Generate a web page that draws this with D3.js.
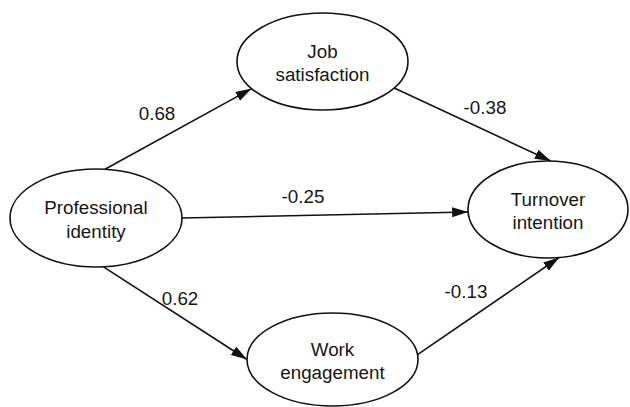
<!DOCTYPE html>
<html>
<head>
<meta charset="utf-8">
<script src="https://cdn.jsdelivr.net/npm/d3@7"></script>
<style>
  body { margin: 0; background: #fff; }
  svg text { font-family: "Liberation Sans", Arial, sans-serif; font-size: 18.8px; fill: #161616; }
</style>
</head>
<body>
<svg></svg>
<script>
var width = 630;
var height = 407;

// constructs in the model
var nodes = ['PI', 'JS', 'WE', 'TI'];
var nodeLabels = [
  ['Professional', 'identity'],
  ['Job', 'satisfaction'],
  ['Work', 'engagement'],
  ['Turnover', 'intention']
];

// paths: source, target, standardized coefficient
var pathFrom = ['PI', 'JS', 'PI', 'PI', 'WE'];
var pathTo = ['JS', 'TI', 'TI', 'WE', 'TI'];
var coefficients = [0.68, -0.38, -0.25, 0.62, -0.13];

// layout (pixels) - where each ellipse sits
var layout = {
  PI: { cx: 96, cy: 218, rx: 86, ry: 49 },
  JS: { cx: 322.5, cy: 61.5, rx: 85.5, ry: 48.5 },
  WE: { cx: 332.5, cy: 359.5, rx: 85.5, ry: 46.5 },
  TI: { cx: 548, cy: 209.5, rx: 80, ry: 48.5 }
};
// angle (deg) where each arrow leaves / enters an ellipse, and label spot
var startAngle = [-84, 33, 0, 85, -6];
var endAngle = [146, -88, 177, 180, 82];
var labelAt = [[157, 120], [485, 114], [303, 203], [180, 305], [466, 298]];

var svg = d3.select('svg')
  .attr('width', width)
  .attr('height', height);

svg.append('defs').append('marker')
  .attr('id', 'head')
  .attr('markerUnits', 'userSpaceOnUse')
  .attr('markerWidth', 17)
  .attr('markerHeight', 11)
  .attr('refX', 16)
  .attr('refY', 5)
  .attr('orient', 'auto')
  .append('path')
  .attr('d', 'M0,0 L16,5 L0,10 Z')
  .attr('fill', '#111');

function onEllipse(key, deg) {
  var e = layout[key];
  var a = deg * Math.PI / 180;
  return [e.cx + e.rx * Math.cos(a), e.cy + e.ry * Math.sin(a)];
}

var paths = coefficients.map(function(c, i) {
  return {
    from: pathFrom[i], to: pathTo[i], value: c,
    p0: onEllipse(pathFrom[i], startAngle[i]),
    p1: onEllipse(pathTo[i], endAngle[i]),
    label: labelAt[i]
  };
});

var line = d3.line();
// plain hyphen for negatives, like the original
var fmt = function(v) { return d3.format('.2f')(v).replace('\u2212', '-'); };

svg.selectAll('.path')
  .data(paths)
  .enter()
  .append('path')
  .attr('class', 'path')
  .attr('d', function(d) { return line([d.p0, d.p1]); })
  .attr('stroke', '#111')
  .attr('stroke-width', 1.6)
  .attr('fill', 'none')
  .attr('marker-end', 'url(#head)');

svg.selectAll('.coef')
  .data(paths)
  .enter()
  .append('text')
  .attr('class', 'coef')
  .attr('x', function(d) { return d.label[0]; })
  .attr('y', function(d) { return d.label[1]; })
  .attr('text-anchor', 'middle')
  .text(function(d) { return fmt(d.value); });

var node = svg.selectAll('.node')
  .data(nodes)
  .enter()
  .append('g')
  .attr('class', 'node')
  .attr('transform', function(d) { return `translate(${layout[d].cx}, ${layout[d].cy})`; });

node.append('ellipse')
  .attr('rx', function(d) { return layout[d].rx; })
  .attr('ry', function(d) { return layout[d].ry; })
  .attr('fill', '#fff')
  .attr('stroke', '#111')
  .attr('stroke-width', 1.6);

node.append('text')
  .attr('text-anchor', 'middle')
  .selectAll('tspan')
  .data(function(d, i) { return nodeLabels[i]; })
  .enter()
  .append('tspan')
  .attr('x', 0)
  .attr('y', function(d, i) { return i === 0 ? -4 : 19.5; })
  .text(function(d) { return d; });
</script>
</body>
</html>
